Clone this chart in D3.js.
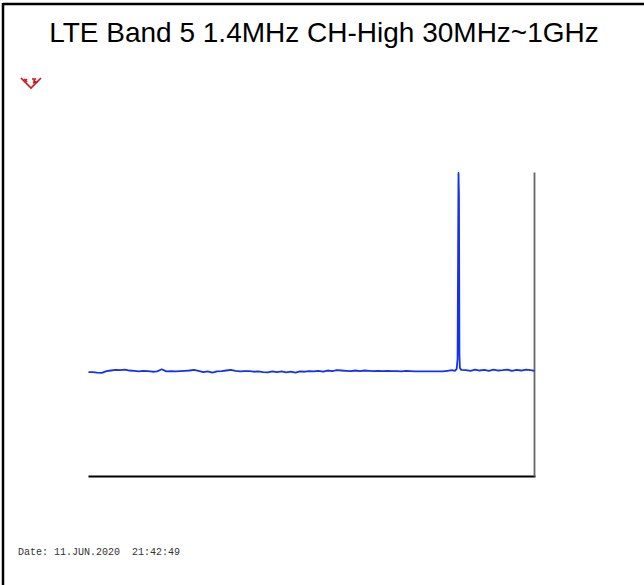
<!DOCTYPE html>
<html>
<head>
<meta charset="utf-8">
<script src="https://cdn.jsdelivr.net/npm/d3@7/dist/d3.min.js"></script>
<style>
  html, body { margin: 0; padding: 0; background: #fff; }
  svg { display: block; }
</style>
</head>
<body>
<svg id="chart" width="644" height="585"></svg>
<script>
// ---- data ----
const title = "LTE Band 5 1.4MHz CH-High 30MHz~1GHz";
const dateLabel = "Date: 11.JUN.2020  21:42:49";
const freqDomainMHz = [30, 1000];
const levelDomainDbm = [-100, 0];
const traceFreqMHz = [
  31, 40, 50, 60, 70, 80, 90, 100, 110, 120, 130, 140, 150, 160, 170, 180, 190, 200,
  210, 220, 230, 240, 250, 260, 270, 280, 290, 300, 310, 320, 330, 340, 350, 360, 370,
  380, 390, 400, 410, 420, 430, 440, 450, 460, 470, 480, 490, 500, 510, 520, 530, 540,
  550, 560, 570, 580, 590, 600, 610, 620, 630, 640, 650, 660, 670, 680, 690, 700, 710,
  720, 730, 740, 800, 810, 820, 826, 830, 832, 833, 834, 835, 836, 837, 840, 850, 860,
  870, 880, 890, 900, 910, 920, 930, 940, 950, 960, 970, 980, 990, 999
];
const traceLevelDbm = [
  -65.8, -65.8, -66.0, -66.1, -65.5, -65.3, -65.1, -65.2, -65.0, -65.3, -65.4, -65.6, -65.4, -65.5, -65.7, -65.6, -64.9, -65.6,
  -65.5, -65.6, -65.5, -65.4, -65.3, -65.1, -65.4, -65.8, -65.6, -66.0, -65.6, -65.5, -65.3, -65.1, -65.4, -65.6, -65.5,
  -65.5, -65.7, -65.6, -65.8, -65.9, -65.6, -65.8, -65.6, -65.9, -65.7, -66.0, -65.6, -65.7, -65.5, -65.6, -65.4, -65.7,
  -65.3, -65.5, -65.2, -65.3, -65.4, -65.5, -65.3, -65.5, -65.3, -65.4, -65.5, -65.4, -65.5, -65.4, -65.5, -65.5, -65.6,
  -65.4, -65.5, -65.6, -65.6, -65.4, -65.2, -65.4, -64.8, -61.5, -30.0, -0.3, -7.9, -60.0, -64.5, -65.1, -65.2, -65.4,
  -65.0, -65.3, -65.1, -65.4, -65.0, -65.3, -65.2, -65.0, -65.4, -65.1, -65.3, -65.0, -65.2, -65.4
];

// ---- drawing ----
const svg = d3.select("#chart");
const W = 644, H = 585;
const plot = { left: 88, right: 535, top: 172, bottom: 476 };

const x = d3.scaleLinear().domain(freqDomainMHz).range([plot.left, plot.right]);
const y = d3.scaleLinear().domain(levelDomainDbm).range([plot.bottom, plot.top]);

// frame (top and left)
svg.append("line").attr("x1", 3).attr("x2", W).attr("y1", 4).attr("y2", 4)
  .attr("stroke", "#000").attr("stroke-width", 2.5);
svg.append("line").attr("x1", 3).attr("x2", 3).attr("y1", 3).attr("y2", H)
  .attr("stroke", "#000").attr("stroke-width", 2.5);

// title
svg.append("text").attr("x", 324).attr("y", 42)
  .attr("text-anchor", "middle")
  .attr("font-family", "Liberation Sans, Arial, sans-serif")
  .attr("font-size", 28)
  .attr("fill", "#000")
  .text(title);

// axes: bottom line and right line
const xAxis = d3.axisBottom(x).tickValues([]).tickSizeOuter(0);
svg.append("g").attr("transform", `translate(0,${plot.bottom})`).call(xAxis)
  .select(".domain").attr("stroke", "#000").attr("stroke-width", 1.8);
const yAxis = d3.axisRight(y).tickValues([]).tickSizeOuter(0);
svg.append("g").attr("transform", `translate(${plot.right - 1},0)`).call(yAxis)
  .select(".domain").attr("stroke", "#666").attr("stroke-width", 1.8);

// trace
const line = d3.line().x((d, i) => x(traceFreqMHz[i])).y(d => y(d));
svg.append("path").datum(traceLevelDbm)
  .attr("d", line)
  .attr("fill", "none")
  .attr("stroke", "#1530f5")
  .attr("stroke-width", 1.8)
  .attr("stroke-linejoin", "round");

// red marker symbol (top-left)
const mk = svg.append("g").attr("transform", "translate(31,88)")
  .attr("fill", "none").attr("stroke", "#d01818").attr("stroke-width", 1.7);
mk.append("path").attr("d", "M-10,-10 L0,0 L10,-10");
mk.append("path").attr("d", "M-7,-9 L-4,-6 M-4,-9 L-6,-7");
mk.append("path").attr("d", "M1,-9 L4,-9 L3,-7 L5,-6 L2,-5");

// date text
svg.append("text").attr("x", 18).attr("y", 555)
  .attr("font-family", "Liberation Mono, Courier New, monospace")
  .attr("font-size", 10)
  .attr("fill", "#333")
  .style("white-space", "pre")
  .text(dateLabel);
</script>
</body>
</html>
